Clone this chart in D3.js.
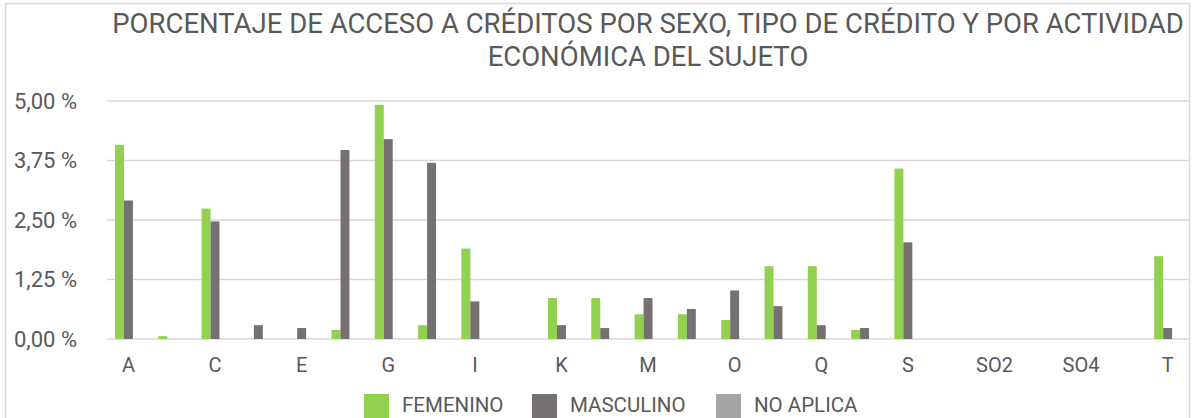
<!DOCTYPE html>
<html>
<head>
<meta charset="utf-8">
<script src="https://cdn.jsdelivr.net/npm/d3@7"></script>
<style>
  body { margin: 0; background: #fff; }
  svg { display: block; font-family: Roboto, "Liberation Sans", sans-serif; }
</style>
</head>
<body>
<svg id="chart" width="1192" height="418"></svg>
<script>
var categories = ["A","B","C","D","E","F","G","H","I","J","K","L","M","N","O","P","Q","R","S","SO1","SO2","SO3","SO4","SO5","T"];
var series = ["FEMENINO", "MASCULINO", "NO APLICA"];
var femenino  = [4.08,0.06,2.74,0,0,0.19,4.92,0.29,1.90,0,0.86,0.86,0.52,0.52,0.40,1.53,1.53,0.19,3.58,0,0,0,0,0,1.74];
var masculino = [2.91,0,2.47,0.29,0.23,3.97,4.20,3.70,0.79,0,0.29,0.23,0.86,0.63,1.02,0.69,0.29,0.23,2.03,0,0,0,0,0,0.23];
var noAplica  = [0,0,0,0,0,0,0,0,0,0,0,0,0,0,0,0,0,0,0,0,0,0,0,0,0];
var yTicks = [0, 1.25, 2.5, 3.75, 5];
var titleLines = ["PORCENTAJE DE ACCESO A CRÉDITOS POR SEXO, TIPO DE CRÉDITO Y POR ACTIVIDAD", "ECONÓMICA DEL SUJETO"];

var colors = {"FEMENINO": "#92d050", "MASCULINO": "#767171", "NO APLICA": "#a5a5a5"};
var textColor = "#595959";

var svg = d3.select("#chart");

// chart frame (bottom edge falls outside the picture)
svg.append("rect")
  .attr("x", 5.5).attr("y", 3.5)
  .attr("width", 1184).attr("height", 440)
  .attr("fill", "none").attr("stroke", "#d9d9d9").attr("stroke-width", 1.5);

// title
svg.append("g").selectAll("text").data(titleLines).enter()
  .append("text")
  .attr("x", 648).attr("y", function(d, i){ return 33 + i * 33; })
  .attr("text-anchor", "middle")
  .attr("font-size", 27.5)
  .attr("fill", textColor)
  .text(function(d){ return d; });

var x = d3.scaleBand().domain(categories).range([106.8, 1189.3]);
var bw = x.bandwidth();
var xs = d3.scaleBand().domain(series).range([bw * 0.19, bw * 0.81]);
var y = d3.scaleLinear().domain([0, 5]).range([339, 101]);

// gridlines
svg.append("g").selectAll("line").data(yTicks).enter()
  .append("line")
  .attr("x1", 107).attr("x2", 1189)
  .attr("y1", function(d){ return y(d); }).attr("y2", function(d){ return y(d); })
  .attr("stroke", "#d9d9d9").attr("stroke-width", 1.5);

// y labels
svg.append("g").selectAll("text").data(yTicks).enter()
  .append("text")
  .attr("x", 77).attr("y", function(d){ return y(d); })
  .attr("dy", "0.36em")
  .attr("text-anchor", "end")
  .attr("font-size", 22)
  .attr("fill", textColor)
  .text(function(d){ return d3.format(".2f")(d).replace(".", ",") + " %"; });

// bars
var rows = categories.map(function(c, i){
  return {cat: c, values: [femenino[i], masculino[i], noAplica[i]]};
});
var groups = svg.append("g").selectAll("g").data(rows).enter()
  .append("g")
  .attr("transform", function(d){ return "translate(" + x(d.cat) + ",0)"; });
groups.selectAll("rect")
  .data(function(d){ return series.map(function(s, j){ return {s: s, v: d.values[j]}; }); })
  .enter().append("rect")
  .attr("x", function(d){ return xs(d.s); })
  .attr("width", xs.bandwidth())
  .attr("y", function(d){ return y(d.v); })
  .attr("height", function(d){ return y(0) - y(d.v); })
  .attr("fill", function(d){ return colors[d.s]; });

// x axis labels (every other category)
var xAxis = d3.axisBottom(x)
  .tickValues(categories.filter(function(d, i){ return i % 2 === 0; }))
  .tickSize(0).tickPadding(0);
var gx = svg.append("g").attr("transform", "translate(0,358)").call(xAxis);
gx.select(".domain").remove();
gx.selectAll("text")
  .attr("font-size", 20)
  .attr("font-family", "Roboto, 'Liberation Sans', sans-serif")
  .attr("fill", textColor)
  .attr("dy", "0.71em");

// legend
var legendX = [364, 532, 716];
var leg = svg.append("g").selectAll("g").data(series).enter()
  .append("g")
  .attr("transform", function(d, i){ return "translate(" + legendX[i] + ",394)"; });
leg.append("rect")
  .attr("width", 25).attr("height", 24)
  .attr("fill", function(d){ return colors[d]; });
leg.append("text")
  .attr("x", 38).attr("y", 18)
  .attr("font-size", 20.5)
  .attr("fill", textColor)
  .text(function(d){ return d; });
</script>
</body>
</html>
